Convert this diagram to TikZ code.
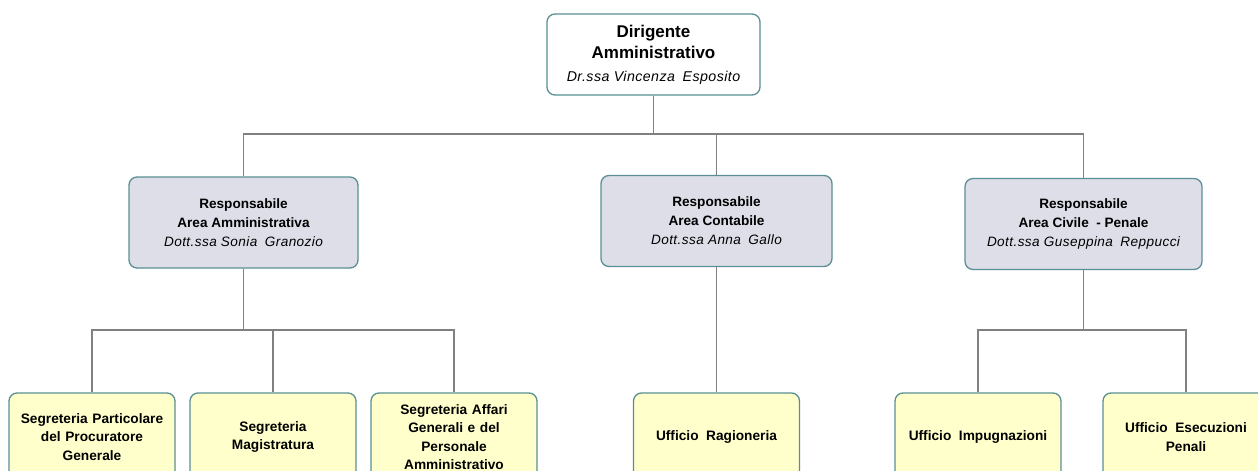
\documentclass[tikz,border=0pt]{standalone}
\usepackage{fontspec}
\setmainfont{Liberation Sans}
\definecolor{boxborder}{HTML}{5A8F94}
\definecolor{midfill}{HTML}{DEDEE9}
\definecolor{leaffill}{HTML}{FFFFCC}
\definecolor{linegray}{HTML}{808080}
\newcommand{\nmtext}[1]{{\mdseries\itshape\addfontfeatures{LetterSpace=3}#1}}
\newcommand{\wsp}{\hspace{0.55em}}
\tikzset{
  box/.style={draw=boxborder, line width=1.3pt, rounded corners=8pt, align=center, inner sep=2pt},
  topbox/.style={box, fill=white, minimum width=213pt, minimum height=81pt, font=\fontsize{17}{21}\selectfont\bfseries},
  midbox/.style={box, fill=midfill, minimum height=91pt, font=\fontsize{13.6}{19}\selectfont\bfseries},
  leafbox/.style={box, fill=leaffill, minimum width=166pt, minimum height=88pt, text width=156pt, font=\fontsize{13.7}{18.5}\selectfont\bfseries},
  conn/.style={draw=linegray, line width=1.2pt}
}
\begin{document}
\begin{tikzpicture}[x=1pt,y=-1pt]
\useasboundingbox (0,0) rectangle (1258,471);
\fill[white] (0,0) rectangle (1258,471);
\coordinate (bus) at (653.5,134);
\coordinate (busL) at (243.5,330);
\coordinate (busR) at (1083.5,330);
% nodes
\node[topbox] (dir) at (653.5,54.5) {Dirigente\\Amministrativo\\[2pt]{\fontsize{14.2}{16}\selectfont\nmtext{Dr.ssa Vincenza\wsp Esposito}}};
\node[midbox, minimum width=229pt] (amm) at (243.5,222.5) {Responsabile\\Area Amministrativa\\{\fontsize{13.6}{19}\selectfont\nmtext{Dott.ssa Sonia\wsp Granozio}}};
\node[midbox, minimum width=231pt] (con) at (716.5,221) {Responsabile\\Area Contabile\\{\fontsize{13.6}{19}\selectfont\nmtext{Dott.ssa Anna\wsp Gallo}}};
\node[midbox, minimum width=237pt] (civ) at (1083.5,224) {Responsabile\\Area Civile\wsp- Penale\\{\fontsize{13.6}{19}\selectfont\nmtext{Dott.ssa Guseppina\wsp Reppucci}}};
\node[leafbox] (b1) at (92,437) {Segreteria Particolare\\del Procuratore\\Generale};
\node[leafbox] (b2) at (273,437) {Segreteria\\Magistratura};
\node[leafbox] (b3) at (454,437) {Segreteria Affari\\Generali e del\\Personale\\Amministrativo};
\node[leafbox] (rag) at (716.5,437) {Ufficio\wsp Ragioneria};
\node[leafbox] (imp) at (978,437) {Ufficio\wsp Impugnazioni};
\node[leafbox] (ese) at (1186,437) {Ufficio\wsp Esecuzioni\\Penali};
% connectors
\draw[conn] (dir.south) -- (bus);
\draw[conn] (amm.north) |- (bus) -| (civ.north);
\draw[conn] (con.north) -- (con.north |- bus);
\draw[conn] (amm.south) -- (busL);
\draw[conn] (b1.north) |- (busL) -| (b3.north);
\draw[conn] (b2.north) -- (b2.north |- busL);
\draw[conn] (con.south) -- (rag.north);
\draw[conn] (civ.south) -- (busR);
\draw[conn] (imp.north) |- (busR) -| (ese.north);
\end{tikzpicture}
\end{document}
